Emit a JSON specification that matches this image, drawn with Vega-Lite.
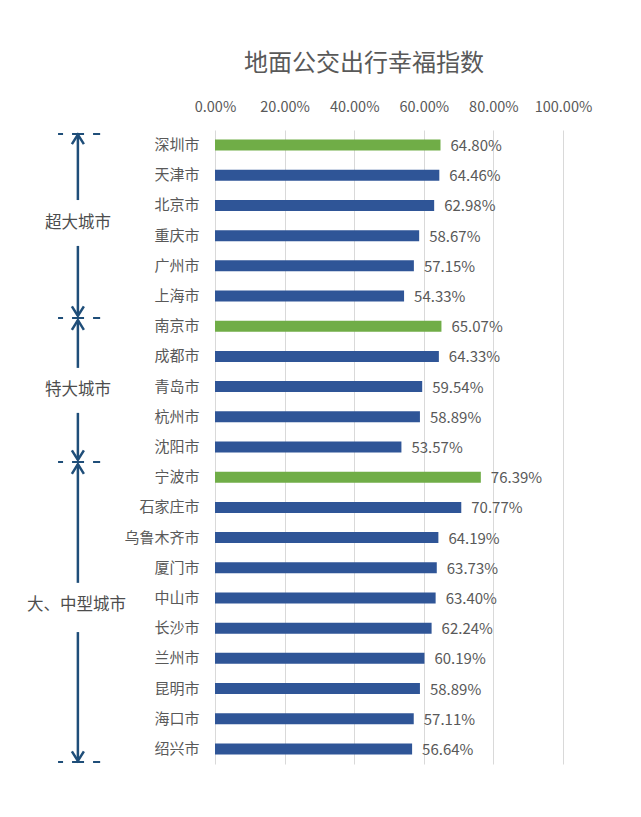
{
  "$schema": "https://vega.github.io/schema/vega-lite/v6.json",
  "autosize": "none",
  "width": 348,
  "height": 634,
  "padding": {"left": 215, "top": 130, "right": 78, "bottom": 53},
  "background": "white",
  "config": {
    "font": "Noto Sans CJK SC",
    "view": {"stroke": null}
  },
  "title": {
    "text": "地面公交出行幸福指数",
    "fontSize": 24,
    "fontWeight": "normal",
    "color": "#595959",
    "font": "Noto Sans CJK SC",
    "dx": -25,
    "offset": 23
  },
  "datasets": {
    "cities": [
      {"city": "深圳市", "value": 0.6480, "type": "top"},
      {"city": "天津市", "value": 0.6446, "type": "other"},
      {"city": "北京市", "value": 0.6298, "type": "other"},
      {"city": "重庆市", "value": 0.5867, "type": "other"},
      {"city": "广州市", "value": 0.5715, "type": "other"},
      {"city": "上海市", "value": 0.5433, "type": "other"},
      {"city": "南京市", "value": 0.6507, "type": "top"},
      {"city": "成都市", "value": 0.6433, "type": "other"},
      {"city": "青岛市", "value": 0.5954, "type": "other"},
      {"city": "杭州市", "value": 0.5889, "type": "other"},
      {"city": "沈阳市", "value": 0.5357, "type": "other"},
      {"city": "宁波市", "value": 0.7639, "type": "top"},
      {"city": "石家庄市", "value": 0.7077, "type": "other"},
      {"city": "乌鲁木齐市", "value": 0.6419, "type": "other"},
      {"city": "厦门市", "value": 0.6373, "type": "other"},
      {"city": "中山市", "value": 0.6340, "type": "other"},
      {"city": "长沙市", "value": 0.6224, "type": "other"},
      {"city": "兰州市", "value": 0.6019, "type": "other"},
      {"city": "昆明市", "value": 0.5889, "type": "other"},
      {"city": "海口市", "value": 0.5711, "type": "other"},
      {"city": "绍兴市", "value": 0.5664, "type": "other"}
    ],
    "verticals": [
      {"x": -0.394, "y": 0.15, "y2": 2.32},
      {"x": -0.394, "y": 3.84, "y2": 6.16},
      {"x": -0.394, "y": 6.3, "y2": 7.88},
      {"x": -0.394, "y": 9.37, "y2": 10.93},
      {"x": -0.394, "y": 11.07, "y2": 15.0},
      {"x": -0.394, "y": 16.63, "y2": 20.9}
    ],
    "dashes": [
      {"x": -0.451, "x2": -0.330, "y": 0.13},
      {"x": -0.451, "x2": -0.330, "y": 6.23},
      {"x": -0.451, "x2": -0.330, "y": 11.0},
      {"x": -0.451, "x2": -0.330, "y": 20.93}
    ],
    "upheads": [
      {"x": -0.394, "y": 0.15},
      {"x": -0.394, "y": 6.3},
      {"x": -0.394, "y": 11.07}
    ],
    "downheads": [
      {"x": -0.394, "y": 6.16},
      {"x": -0.394, "y": 10.93},
      {"x": -0.394, "y": 20.9}
    ],
    "groups": [
      {"x": -0.394, "y": 3.08, "label": "超大城市"},
      {"x": -0.394, "y": 8.61, "label": "特大城市"},
      {"x": -0.398, "y": 15.73, "label": "大、中型城市"}
    ]
  },
  "layer": [
    {
      "data": {"name": "cities"},
      "encoding": {
        "y": {
          "field": "city",
          "type": "nominal",
          "sort": null,
          "scale": {"paddingInner": 0.636, "paddingOuter": 0.318},
          "axis": {
            "title": null,
            "ticks": false,
            "domain": false,
            "labelPadding": 16,
            "labelFontSize": 15,
            "labelColor": "#595959",
            "labelFont": "Noto Sans CJK SC"
          }
        },
        "x": {
          "field": "value",
          "type": "quantitative",
          "scale": {"domain": [0, 1], "nice": false},
          "axis": {
            "orient": "top",
            "title": null,
            "format": ".2%",
            "values": [0, 0.2, 0.4, 0.6, 0.8, 1],
            "ticks": false,
            "domain": false,
            "grid": true,
            "gridColor": "#d9d9d9",
            "gridWidth": 1,
            "labelPadding": 16,
            "labelFontSize": 14.5,
            "labelColor": "#595959",
            "labelFont": "Noto Sans CJK SC",
            "labelOverlap": false,
            "labelBound": false,
            "labelFlush": false
          }
        }
      },
      "layer": [
        {
          "mark": {"type": "bar"},
          "encoding": {
            "color": {
              "field": "type",
              "type": "nominal",
              "scale": {"domain": ["top", "other"], "range": ["#70ad47", "#2f5597"]},
              "legend": null
            }
          }
        },
        {
          "mark": {"type": "text", "align": "left", "baseline": "middle", "dx": 10, "dy": 1, "fontSize": 15, "color": "#595959"},
          "encoding": {
            "text": {"field": "value", "type": "quantitative", "format": ".2%"}
          }
        }
      ]
    },
    {
      "layer": [
        {
          "data": {"name": "verticals"},
          "mark": {"type": "rule", "color": "#1f4e79", "strokeWidth": 2.5},
          "encoding": {
            "x": {"field": "x", "type": "quantitative", "scale": {"domain": [0, 1], "nice": false}},
            "y": {"field": "y", "type": "quantitative", "scale": {"domain": [0, 21], "reverse": true, "nice": false, "zero": false}, "axis": null},
            "y2": {"field": "y2"}
          }
        },
        {
          "data": {"name": "dashes"},
          "mark": {"type": "rule", "color": "#1f4e79", "strokeWidth": 2, "strokeDash": [5, 9, 12, 9, 7, 0]},
          "encoding": {
            "x": {"field": "x", "type": "quantitative", "scale": {"domain": [0, 1], "nice": false}},
            "x2": {"field": "x2"},
            "y": {"field": "y", "type": "quantitative", "scale": {"domain": [0, 21], "reverse": true, "nice": false, "zero": false}, "axis": null}
          }
        },
        {
          "data": {"name": "upheads"},
          "mark": {"type": "point", "shape": "M-1,1.6L0,0L1,1.6", "filled": false, "size": 144, "color": "#1f4e79", "strokeWidth": 2.5, "opacity": 1},
          "encoding": {
            "x": {"field": "x", "type": "quantitative", "scale": {"domain": [0, 1], "nice": false}},
            "y": {"field": "y", "type": "quantitative", "scale": {"domain": [0, 21], "reverse": true, "nice": false, "zero": false}, "axis": null}
          }
        },
        {
          "data": {"name": "downheads"},
          "mark": {"type": "point", "shape": "M-1,-1.6L0,0L1,-1.6", "filled": false, "size": 144, "color": "#1f4e79", "strokeWidth": 2.5, "opacity": 1},
          "encoding": {
            "x": {"field": "x", "type": "quantitative", "scale": {"domain": [0, 1], "nice": false}},
            "y": {"field": "y", "type": "quantitative", "scale": {"domain": [0, 21], "reverse": true, "nice": false, "zero": false}, "axis": null}
          }
        },
        {
          "data": {"name": "groups"},
          "mark": {"type": "text", "align": "center", "baseline": "middle", "fontSize": 16.5, "color": "#4d4d4d"},
          "encoding": {
            "x": {"field": "x", "type": "quantitative", "scale": {"domain": [0, 1], "nice": false}},
            "y": {"field": "y", "type": "quantitative", "scale": {"domain": [0, 21], "reverse": true, "nice": false, "zero": false}, "axis": null},
            "text": {"field": "label"}
          }
        }
      ]
    }
  ],
  "resolve": {"scale": {"y": "independent"}, "axis": {"y": "independent"}}
}
